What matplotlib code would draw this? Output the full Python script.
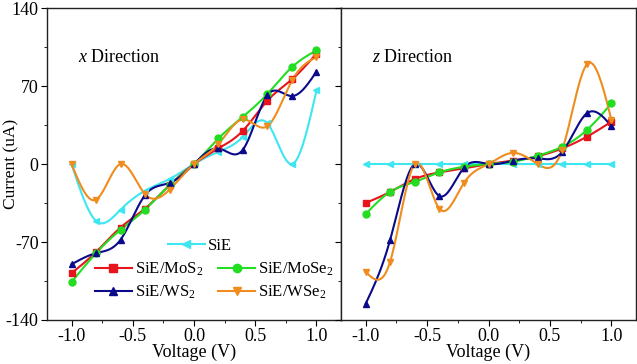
import numpy as np
import matplotlib
matplotlib.use("Agg")
import matplotlib.pyplot as plt
from matplotlib.ticker import MultipleLocator
from matplotlib.lines import Line2D

plt.rcParams['font.family'] = ['Liberation Serif', 'DejaVu Serif']
plt.rcParams['mathtext.fontset'] = 'custom'
plt.rcParams['mathtext.rm'] = 'Liberation Serif'
plt.rcParams['mathtext.it'] = 'Liberation Serif:italic'

voltage = [-1.0, -0.8, -0.6, -0.4, -0.2, 0.0, 0.2, 0.4, 0.6, 0.8, 1.0]

# x direction
x_sie   = [0, -51, -41, -24, -13.5, 0, 11, 24.5, 36.5, 0, 66]
x_mos2  = [-98, -79, -57, -40, -19, 0, 14, 30, 57, 76, 99]
x_mose2 = [-106, -80, -59, -41, -19, 0, 23, 42.5, 63, 87, 102]
x_ws2   = [-90, -80, -68, -28, -17, 0, 14, 13, 62, 61, 83]
x_wse2  = [0, -32, 0, -27, -23, 0, 18, 40, 34, 75, 96]

# z direction
z_sie   = [0, 0, 0, 0, 0, 0, 0, 0, 0, 0, 0]
z_mos2  = [-35, -25, -13.5, -7.5, -4, 0, 3, 7, 14, 24.5, 38]
z_mose2 = [-45, -25, -16, -7.5, -2.5, 0, 2, 7.5, 15.5, 30.5, 54.5]
z_ws2   = [-125.6, -68, 0, -28.7, -3.3, 0, 3, 5, 11, 45.5, 34]
z_wse2  = [-96.6, -87.6, 0, -40, -17, 0, 10, 0, 13, 89.5, 39.5]

labels = ['SiE', 'SiE/MoS$_\\mathrm{2}$', 'SiE/MoSe$_\\mathrm{2}$',
          'SiE/WS$_\\mathrm{2}$', 'SiE/WSe$_\\mathrm{2}$']
colors = ['#3ee6f0', '#e8141c', '#22dd22', '#0a0a8a', '#f08c1e']
markers = ['<', 's', 'o', '^', 'v']


def natural_spline(x, y, n=200):
    x = np.asarray(x, float); y = np.asarray(y, float)
    m = len(x); h = np.diff(x)
    A = np.zeros((m, m)); b = np.zeros(m)
    A[0, 0] = 1; A[-1, -1] = 1
    for i in range(1, m - 1):
        A[i, i - 1] = h[i - 1]; A[i, i] = 2 * (h[i - 1] + h[i]); A[i, i + 1] = h[i]
        b[i] = 3 * ((y[i + 1] - y[i]) / h[i] - (y[i] - y[i - 1]) / h[i - 1])
    c = np.linalg.solve(A, b)
    xs = np.linspace(x[0], x[-1], n)
    idx = np.clip(np.searchsorted(x, xs) - 1, 0, m - 2)
    dx = xs - x[idx]
    bb = (y[1:] - y[:-1]) / h - h * (2 * c[:-1] + c[1:]) / 3
    d = (c[1:] - c[:-1]) / (3 * h)
    ys = y[idx] + bb[idx] * dx + c[idx] * dx ** 2 + d[idx] * dx ** 3
    return xs, ys


fig = plt.figure(figsize=(6.37, 3.64), dpi=100)
ax1 = fig.add_axes([0.0738, 0.1209, 0.4615, 0.857])
ax2 = fig.add_axes([0.5353, 0.1209, 0.4632, 0.857])

for ax, series, title in [(ax1, [x_sie, x_mos2, x_mose2, x_ws2, x_wse2], 'x'),
                          (ax2, [z_sie, z_mos2, z_mose2, z_ws2, z_wse2], 'z')]:
    for ys, c, mk in zip(series, colors, markers):
        sx, sy = natural_spline(voltage, ys)
        ax.plot(sx, sy, color=c, lw=1.5, zorder=2)
        ax.plot(voltage, ys, linestyle='none', marker=mk, color=c, ms=5, zorder=3)
    ax.set_xlim(-1.2, 1.2)
    ax.set_ylim(-140, 140)
    ax.xaxis.set_major_locator(MultipleLocator(0.5))
    ax.xaxis.set_minor_locator(MultipleLocator(0.25))
    ax.yaxis.set_major_locator(MultipleLocator(70))
    ax.yaxis.set_minor_locator(MultipleLocator(35))
    ax.set_xticks([-1.0, -0.5, 0.0, 0.5, 1.0])
    ax.set_xticklabels(['-1.0', '-0.5', '0.0', '0.5', '1.0'])
    ax.tick_params(which='both', direction='out', labelsize=13, top=False, right=False, pad=2)
    ax.tick_params(which='major', length=4)
    ax.tick_params(which='minor', length=2.5)
    ax.set_xlabel('Voltage (V)', fontsize=13, labelpad=-1)
    ax.text(0.105, 0.843, '$\\mathit{%s}$ Direction' % title, transform=ax.transAxes,
            fontsize=13, va='center', ha='left')
    for s in ax.spines.values():
        s.set_linewidth(1.0)
        s.set_color('#222222')

ax1.set_yticks([-140, -70, 0, 70, 140])
ax1.set_yticklabels(['-140', '-70', '0', '70', '140'])
ax1.set_ylabel('Current (uA)', fontsize=12.5)
ax1.yaxis.set_label_coords(-0.095, 0.5)
ax2.tick_params(axis='y', labelleft=False)

handles = [Line2D([0], [0], color=c, marker=m, lw=1.5, ms=6) for c, m in zip(colors, markers)]
leg1 = ax1.legend([handles[0]], [labels[0]], loc='center', bbox_to_anchor=(0.52, 0.238),
                  frameon=False, fontsize=12, handlelength=2.2, handletextpad=0.2,
                  borderaxespad=0)
ax1.add_artist(leg1)
ax1.legend([handles[1], handles[3], handles[2], handles[4]],
           [labels[1], labels[3], labels[2], labels[4]],
           ncol=2, loc='center', bbox_to_anchor=(0.57, 0.125), frameon=False,
           fontsize=12, handlelength=2.2, handletextpad=0.2, columnspacing=0.9,
           labelspacing=0.35, borderaxespad=0)

fig.savefig('out.png', dpi=100)
